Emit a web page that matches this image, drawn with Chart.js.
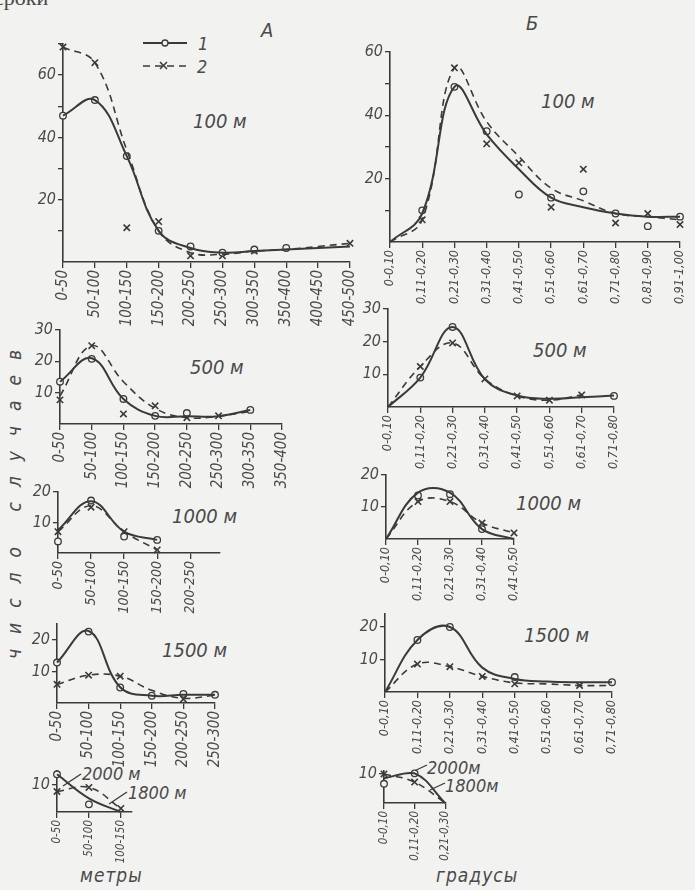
<!DOCTYPE html>
<html>
<head>
<meta charset="utf-8">
<script src="https://cdn.jsdelivr.net/npm/chart.js@4/dist/chart.umd.min.js"></script>
<style>
  body { margin: 0; background: #f2f2f0; }
  #page { position: relative; width: 695px; height: 890px; overflow: hidden;
          font-family: 'Liberation Sans Narrow', 'DejaVu Sans Condensed', 'Liberation Sans', sans-serif;
          font-style: italic; color: #4a4a4a; }
  #page canvas { position: absolute; }
  .t { position: absolute; white-space: nowrap; line-height: 1; }
</style>
</head>
<body>
<div id="page">
  <svg width="695" height="890" style="position:absolute;left:0;top:0">
    <g stroke="#3a3a3a" fill="none">
      <line x1="143" y1="43" x2="187" y2="43" stroke-width="2"/>
      <circle cx="165" cy="43" r="3" fill="#f2f2f0" stroke-width="1.3"/>
      <line x1="143" y1="66" x2="187" y2="66" stroke-width="1.6" stroke-dasharray="7 5"/>
      <path d="M160 62 l7 7 M167 62 l-7 7" stroke-width="1.5"/>
      <line x1="63" y1="786" x2="81" y2="774" stroke-width="1.3"/>
      <line x1="109" y1="804" x2="127" y2="792" stroke-width="1.3"/>
      <line x1="412" y1="772" x2="427" y2="765" stroke-width="1.3"/>
      <line x1="430" y1="790" x2="445" y2="783" stroke-width="1.3"/>
    </g>
  </svg>
  <div class="t" style="left:-6px;top:-15px;font:22px 'Liberation Serif',serif;">сроки</div>
  <div class="t" style="left:261px;top:20px;font-size:20px;">А</div>
  <div class="t" style="left:526px;top:13px;font-size:20px;">Б</div>
  <div class="t" style="left:198px;top:35px;font-size:18px;">1</div>
  <div class="t" style="left:197px;top:58px;font-size:18px;">2</div>

  <div class="t" style="left:193px;top:111px;font-size:20px;">100 м</div>
  <div class="t" style="left:541px;top:91px;font-size:20px;">100 м</div>
  <div class="t" style="left:190px;top:357px;font-size:20px;">500 м</div>
  <div class="t" style="left:533px;top:340px;font-size:20px;">500 м</div>
  <div class="t" style="left:172px;top:506px;font-size:20px;">1000 м</div>
  <div class="t" style="left:516px;top:493px;font-size:20px;">1000 м</div>
  <div class="t" style="left:162px;top:640px;font-size:20px;">1500 м</div>
  <div class="t" style="left:524px;top:625px;font-size:20px;">1500 м</div>
  <div class="t" style="left:82px;top:765px;font-size:18px;">2000 м</div>
  <div class="t" style="left:128px;top:784px;font-size:18px;">1800 м</div>
  <div class="t" style="left:427px;top:759px;font-size:18px;">2000м</div>
  <div class="t" style="left:445px;top:777px;font-size:18px;">1800м</div>

  <div class="t" style="left:80px;top:866px;font-size:19px;letter-spacing:1px;">метры</div>
  <div class="t" style="left:436px;top:866px;font-size:19px;letter-spacing:1px;">градусы</div>
  <div class="t" style="left:14px;top:497px;font-size:19px;letter-spacing:15px;transform:translate(-50%,-50%) rotate(-90deg);">число случаев</div>
</div>

<script>
// bins along the x axes
const metreBins = ['0-50', '50-100', '100-150', '150-200', '200-250', '250-300', '300-350', '350-400', '400-450', '450-500'];
const degreeBins = ['0-0,10', '0,11-0,20', '0,21-0,30', '0,31-0,40', '0,41-0,50', '0,51-0,60', '0,61-0,70', '0,71-0,80', '0,81-0,90', '0,91-1,00'];

// A, 100 m  (line = drawn curve, mark = plotted point)
const a100Line1 = [47, 52, 34, 10, 4.5, 3, 3.5, 4, 4.5, 5];
const a100Mark1 = [47, 52, 34, 10, 5, 3, 4, 4.5, null, null];
const a100Line2 = [69, 64, 36, 10, 3, 2.5, 3.5, 4, 5, 6];
const a100Mark2 = [69, 64, 11, 13, 2, 2, 3.5, null, null, 6];
// Б, 100 m
const b100Line1 = [0, 9, 49, 34, 23, 14, 11, 9, 8, 8];
const b100Mark1 = [null, 10, 49, 35, 15, 14, 16, 9, 5, 8];
const b100Line2 = [0, 7, 55, 38, 27, 17, 13, 9, 8, 7];
const b100Mark2 = [null, 7, 55, 31, 25, 11, 23, 6, 9, 5.5];
// A, 500 m
const a500Line1 = [13.5, 21, 8, 2.6, 2.5, 2.5, 4.5, null];
const a500Mark1 = [13.5, 20.8, 8, 2.6, 3.5, null, 4.5, null];
const a500Line2 = [9, 25, 13.5, 5, 2, 2.5, 4, null];
const a500Mark2 = [7.7, 25, 3.2, 5.8, 2, 2.6, null, null];
// Б, 500 m
const b500Line1 = [0, 9, 24.5, 8.5, 3.5, 2.5, 3, 3.5];
const b500Mark1 = [null, 9, 24.5, null, null, null, null, 3.4];
const b500Line2 = [0, 12.4, 19.6, 8.6, 3.4, 2.1, 3.7, null];
const b500Mark2 = [null, 12.4, 19.6, 8.6, 3.4, 2.1, 3.7, null];
// A, 1000 m
const a1000Line1 = [7.5, 17, 7, 4.3, null];
const a1000Mark1 = [3.8, 17.2, 5.4, 4.3, null];
const a1000Line2 = [7, 15.5, 7, 1, null];
const a1000Mark2 = [7, 15, 7, 1, null];
// Б, 1000 m
const b1000Line1 = [0, 14.5, 14.5, 3.1, 0];
const b1000Mark1 = [null, 13.6, 14, 3.1, null];
const b1000Line2 = [0, 11.7, 11.7, 5, 1.9];
const b1000Mark2 = [null, 11.7, 11.7, 5, 1.9];
// A, 1500 m
const a1500Line1 = [12.8, 22.8, 5, 2.3, 2.6, 2.6];
const a1500Mark1 = [12.8, 22.6, 4.9, 2.3, 2.9, 2.6];
const a1500Line2 = [5.9, 8.8, 8.5, 4, 1.5, 2.5];
const a1500Mark2 = [5.9, 8.8, 8.5, null, 1.2, null];
// Б, 1500 m
const b1500Line1 = [0, 16, 20, 7.5, 4, 3.2, 3, 3];
const b1500Mark1 = [null, 16, 20, null, 4.6, null, null, 3];
const b1500Line2 = [0, 8.6, 7.8, 4.8, 2.8, 2.5, 2, 2];
const b1500Mark2 = [null, 8.6, 7.8, 4.8, 2.5, null, 2, null];
// A, 2000 m (1) and 1800 m (2)
const a2000Line1 = [13.8, 5, 0];
const a2000Mark1 = [13.8, 2.8, null];
const a1800Line2 = [7.5, 9, 1.3];
const a1800Mark2 = [7.5, 9, 1.3];
// Б, 2000 m (1) and 1800 m (2)
const b2000Line1 = [8.5, 10.2, 0];
const b2000Mark1 = [6.6, 10.2, null];
const b1800Line2 = [10, 7.2, 0];
const b1800Mark2 = [10, 7.2, null];

const ink = '#3a3a3a';
const txt = '#4a4a4a';
const paper = '#f2f2f0';
const fam = "'Liberation Sans Narrow', 'DejaVu Sans Condensed', 'Liberation Sans', sans-serif";

const page = document.getElementById('page');

function makePanel(p) {
  const padL = 40, padR = 14, padT = 12, xH = 74;
  const w = Math.round(p.right - p.left) + padL + padR;
  const h = Math.round(p.bottom - p.top) + padT + xH;
  const cv = document.createElement('canvas');
  cv.width = w;
  cv.height = h;
  cv.style.left = (p.left - padL) + 'px';
  cv.style.top = Math.round(p.top - padT) + 'px';
  page.appendChild(cv);

  const pts = arr => arr.map((v, i) => ({ x: i, y: v }));
  const axisGrid = { drawOnChartArea: false, drawTicks: true, tickLength: 6, color: ink, lineWidth: 1.3 };
  const axisBorder = { display: true, color: ink, width: 1.6 };

  new Chart(cv, {
    type: 'line',
    data: {
      datasets: [
        { data: pts(p.line1), borderColor: ink, borderWidth: 2, pointRadius: 0, tension: 0.4, clip: false },
        { data: pts(p.line2), borderColor: ink, borderWidth: 1.6, borderDash: [7, 5], pointRadius: 0, tension: 0.4, clip: false },
        { data: pts(p.mark1), showLine: false, pointStyle: 'circle', pointRadius: 3.3,
          pointBackgroundColor: paper, pointBorderColor: ink, pointBorderWidth: 1.3, clip: false },
        { data: pts(p.mark2), showLine: false, pointStyle: 'crossRot', pointRadius: 4.5,
          pointBorderColor: ink, pointBorderWidth: 1.6, clip: false }
      ]
    },
    options: {
      responsive: false,
      animation: false,
      events: [],
      layout: { padding: { left: 0, right: padR, top: padT, bottom: 0 } },
      plugins: { legend: { display: false }, tooltip: { enabled: false } },
      scales: {
        x: {
          type: 'linear',
          min: 0,
          max: p.xMax ?? p.labels.length - 1,
          afterBuildTicks: s => { s.ticks = p.labels.map((l, i) => ({ value: i })); },
          afterFit: s => { s.height = xH; },
          ticks: {
            autoSkip: false, minRotation: 90, maxRotation: 90, padding: 2, color: txt,
            font: { family: fam, size: p.xFont, style: 'italic' },
            callback: v => p.labels[v] ?? ''
          },
          grid: axisGrid,
          border: axisBorder
        },
        y: {
          min: 0,
          max: p.yMax,
          afterBuildTicks: s => {
            const t = [];
            for (let v = 10; v <= p.yMax; v += 10) t.push({ value: v });
            s.ticks = t;
          },
          afterFit: s => { s.width = padL; },
          ticks: {
            padding: 2, color: txt,
            font: { family: fam, size: 16, style: 'italic' },
            callback: v => (v % p.yLabelStep === 0 ? String(v) : '')
          },
          grid: { ...axisGrid, tickLength: 5 },
          border: axisBorder
        }
      }
    }
  });
}

const panels = [
  { labels: metreBins, line1: a100Line1, mark1: a100Mark1, line2: a100Line2, mark2: a100Mark2,
    left: 63, right: 356, top: 44, bottom: 262, yMax: 70, yLabelStep: 20, xFont: 15 },
  { labels: degreeBins, line1: b100Line1, mark1: b100Mark1, line2: b100Line2, mark2: b100Mark2,
    left: 390, right: 683, top: 52, bottom: 242, yMax: 60, yLabelStep: 20, xFont: 12.5 },
  { labels: metreBins.slice(0, 8), line1: a500Line1, mark1: a500Mark1, line2: a500Line2, mark2: a500Mark2,
    left: 60, right: 288, top: 330, bottom: 424, yMax: 30, yLabelStep: 10, xFont: 15 },
  { labels: degreeBins.slice(0, 8), line1: b500Line1, mark1: b500Mark1, line2: b500Line2, mark2: b500Mark2,
    left: 388, right: 617, top: 309, bottom: 407, yMax: 30, yLabelStep: 10, xFont: 12.5 },
  { labels: metreBins.slice(0, 5), line1: a1000Line1, mark1: a1000Mark1, line2: a1000Line2, mark2: a1000Mark2,
    left: 58, right: 220, top: 492, bottom: 553, xMax: 4.9, yMax: 20, yLabelStep: 10, xFont: 14 },
  { labels: degreeBins.slice(0, 5), line1: b1000Line1, mark1: b1000Mark1, line2: b1000Line2, mark2: b1000Mark2,
    left: 386, right: 517, top: 475, bottom: 539, yMax: 20, yLabelStep: 10, xFont: 12.5 },
  { labels: metreBins.slice(0, 6), line1: a1500Line1, mark1: a1500Mark1, line2: a1500Line2, mark2: a1500Mark2,
    left: 57, right: 221, top: 624, bottom: 703, yMax: 25, yLabelStep: 10, xFont: 15 },
  { labels: degreeBins.slice(0, 8), line1: b1500Line1, mark1: b1500Mark1, line2: b1500Line2, mark2: b1500Mark2,
    left: 385, right: 615, top: 614, bottom: 692, yMax: 24, yLabelStep: 10, xFont: 12.5 },
  { labels: metreBins.slice(0, 3), line1: a2000Line1, mark1: a2000Mark1, line2: a1800Line2, mark2: a1800Mark2,
    left: 57, right: 132, top: 771, bottom: 812, xMax: 2.35, yMax: 15, yLabelStep: 10, xFont: 11.5 },
  { labels: degreeBins.slice(0, 3), line1: b2000Line1, mark1: b2000Mark1, line2: b1800Line2, mark2: b1800Mark2,
    left: 384, right: 447, top: 771, bottom: 803, yMax: 11, yLabelStep: 10, xFont: 11.5 }
];

panels.forEach(makePanel);
</script>
</body>
</html>
